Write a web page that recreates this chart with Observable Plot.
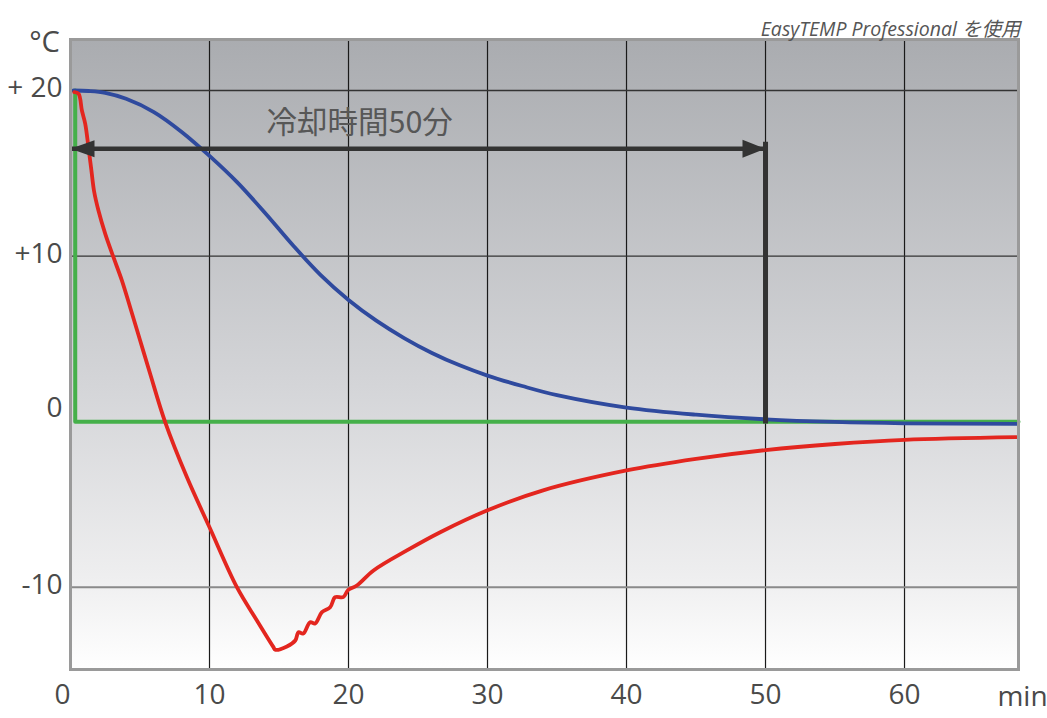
<!DOCTYPE html>
<html><head><meta charset="utf-8">
<script src="https://cdn.jsdelivr.net/npm/d3@7"></script>
<script src="https://cdn.jsdelivr.net/npm/@observablehq/plot@0.6"></script>
<style>html,body{margin:0;padding:0;background:#fff;} #chart{width:1047px;height:718px;}</style>
</head><body><div id="chart"></div>
<script>
// Red curve (minutes / °C)
const redMinutes = [0.27,0.58,0.82,1.06,1.29,1.50,1.70,2.01,2.50,3.09,3.70,4.29,5.01,5.73,6.81,8.37,10.0,11.97,13.41,14.60,14.73,15.57,16.17,16.40,16.74,17.24,17.60,18.09,18.68,19.04,19.62,19.98,20.60,21.80,24.20,26.60,29.96,34.0,40.0,45.0,50.0,55.0,60.0,68.04];
const redTemps   = [19.90,19.80,18.79,17.99,16.58,15.20,13.90,12.75,11.34,9.93,8.52,6.91,4.90,2.89,-0.03,-3.35,-6.38,-10.0,-12.01,-13.62,-13.78,-13.58,-13.22,-12.72,-12.80,-12.11,-12.19,-11.51,-11.21,-10.60,-10.60,-10.16,-9.90,-8.99,-7.78,-6.68,-5.37,-4.15,-2.95,-2.25,-1.72,-1.35,-1.10,-0.94];
// Blue curve
const blueMinutes = [0.22,1.3,2.5,4,6,8,10,12,14,16,18,20,22,24,26,28,30,32.5,35,40,45,50,55,60,68.04];
const blueTemps   = [20.0,19.97,19.86,19.5,18.7,17.5,16.05,14.45,12.6,10.65,8.85,7.35,6.1,5.05,4.15,3.4,2.78,2.15,1.6,0.85,0.42,0.14,-0.02,-0.1,-0.14];
// Green curve
const greenMinutes = [0.34,0.34,68.2];
const greenTemps   = [20,0,0];

const xTicks = [0,10,20,30,40,50,60];
const xGrid = [10,20,30,40,50,60];
const yTicks = [20,10,-10];
const yTickLabels = ["+ 20","+10","-10"];
const yZeroTick = [0];
const yZeroLabel = ["0"];
const xUnit = "min";
const yUnit = "°C";
const title = "EasyTEMP Professional を使用";
const annotationText = "冷却時間50分";
const annotationPos = {x: 20.8, y: 18.0};
const arrowSpan = {start: 0, end: 50, temp: 16.48};
const markerBar = {minute: 50, top: 16.87, bottom: -0.14};

const red = redMinutes.map((m,i)=>({m, t: redTemps[i]}));
const blue = blueMinutes.map((m,i)=>({m, t: blueTemps[i]}));
const green = greenMinutes.map((m,i)=>({m, t: greenTemps[i]}));

const leftHead = {draw(ctx){ctx.moveTo(0,0);ctx.lineTo(24,-8.5);ctx.lineTo(24,8.5);ctx.closePath();}};
const rightHead = {draw(ctx){ctx.moveTo(0,0);ctx.lineTo(-23,-9);ctx.lineTo(-23,9);ctx.closePath();}};

const labelFont = "'Open Sans', sans-serif";
const labelColor = "#4a4a4a";

const svg = Plot.plot({
  width: 1047, height: 718,
  marginLeft: 70, marginRight: 29, marginTop: 39, marginBottom: 49,
  x: {domain: [0, 68.2], axis: null},
  y: {domain: [-14.97, 23.08], axis: null},
  style: {fontFamily: labelFont, background: "#fff"},
  marks: [
    Plot.frame({fill: "url(#bgGrad)", stroke: "none"}),
    Plot.ruleX(xGrid, {stroke: "#1a1a1a", strokeWidth: 1.2}),
    Plot.ruleY(yTicks.filter(d => d > 0), {stroke: "#333", strokeWidth: 1.3}),
    Plot.ruleY(yTicks.filter(d => d < 0), {stroke: "#8a8a8a", strokeWidth: 2}),
    Plot.line(green, {x: "m", y: "t", stroke: "#45b04a", strokeWidth: 4}),
    Plot.line(blue, {x: "m", y: "t", stroke: "#2f4a9e", strokeWidth: 3.8, curve: "catmull-rom"}),
    Plot.line(red, {x: "m", y: "t", stroke: "#e3261f", strokeWidth: 3.8, curve: "catmull-rom"}),
    Plot.ruleY([arrowSpan], {y: "temp", x1: "start", x2: "end", stroke: "#333", strokeWidth: 4.5}),
    Plot.dot([arrowSpan], {x: "start", y: "temp", symbol: leftHead, fill: "#333", stroke: "none"}),
    Plot.dot([arrowSpan], {x: "end", y: "temp", symbol: rightHead, fill: "#333", stroke: "none"}),
    Plot.ruleX([markerBar], {x: "minute", y1: "bottom", y2: "top", stroke: "#333", strokeWidth: 5}),
    Plot.frame({stroke: "#9a9a9a", strokeWidth: 3, fill: "none"}),
    Plot.text([annotationText], {x: annotationPos.x, y: annotationPos.y, text: d => d, fontFamily: "'Noto Sans CJK JP', sans-serif", fontSize: 30.5, fill: "#575757"}),
    Plot.text(yTicks, {x: 0, y: d => d, text: (d,i) => yTickLabels[i], textAnchor: "end", dx: -8, dy: -2, fontSize: 28, fill: labelColor}),
    Plot.text(yZeroTick, {x: 0, y: d => d, text: (d,i) => yZeroLabel[i], textAnchor: "end", dx: -8, dy: -14, fontSize: 28, fill: labelColor}),
    Plot.text(xTicks.filter(d => d > 0), {x: d => d, frameAnchor: "bottom", dy: 34, text: d => String(d), fontSize: 28, fill: labelColor}),
    Plot.text(xTicks.filter(d => d === 0), {x: d => d, frameAnchor: "bottom", dx: -8, dy: 34, text: d => String(d), fontSize: 28, fill: labelColor}),
    Plot.text([xUnit], {frameAnchor: "bottom-right", dx: 4, dy: 36, textAnchor: "middle", text: d => d, fontSize: 28, fill: labelColor}),
    Plot.text([yUnit], {frameAnchor: "top-left", dx: -26, dy: -8, textAnchor: "middle", text: d => d, fontSize: 29, fill: labelColor}),
    Plot.text([title], {frameAnchor: "top-right", dx: 2, dy: -17, textAnchor: "end", text: d => d, fontFamily: "'Open Sans', 'Noto Sans CJK JP', sans-serif", fontStyle: "italic", fontSize: 19.5, fill: "#555"})
  ]
});

d3.select(svg).insert("defs", ":first-child").html(
  `<linearGradient id="bgGrad" x1="0" y1="0" x2="0" y2="1">
     <stop offset="0%" stop-color="#aaacb0"/>
     <stop offset="55%" stop-color="#d4d5d8"/>
     <stop offset="85%" stop-color="#eeeeef"/>
     <stop offset="100%" stop-color="#ffffff"/>
   </linearGradient>`);

document.getElementById("chart").appendChild(svg);
</script>
</body></html>
